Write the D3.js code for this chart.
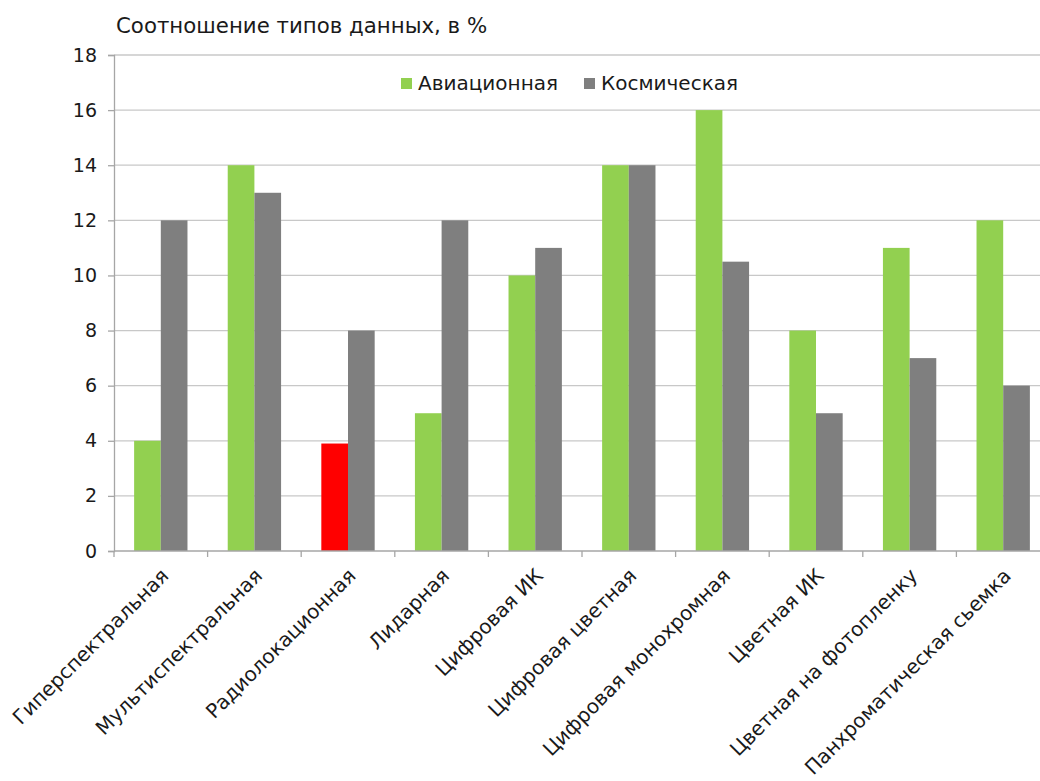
<!DOCTYPE html>
<html><head><meta charset="utf-8">
<script src="https://cdn.jsdelivr.net/npm/d3@7"></script>
<style>
html,body{margin:0;padding:0;background:#fff;}
text{font-family:"DejaVu Sans",sans-serif;fill:#1a1a1a;}
</style></head>
<body><svg id="c" width="1040" height="781"></svg>
<script>
const categories = ["Гиперспектральная","Мультиспектральная","Радиолокационная","Лидарная","Цифровая ИК","Цифровая цветная","Цифровая монохромная","Цветная ИК","Цветная на фотопленку","Панхроматическая сьемка"];
const seriesNames = ["Авиационная","Космическая"];
const aviation = [4,14,3.9,5,10,14,16,8,11,12];
const space = [12,13,8,12,11,14,10.5,5,7,6];
const yTicks = [0,2,4,6,8,10,12,14,16,18];
const highlightIndex = 2;

(function(){
const colors = {"Авиационная":"#92d050","Космическая":"#7f7f7f"};
const highlight = "#ff0000";

const svg = d3.select("#c");
const mLeft = 114, mRight = 1050, mTop = 55, mBottom = 551;

const x = d3.scaleBand().domain(categories).range([mLeft,mRight]).paddingInner(0.43).paddingOuter(0.215);
const xs = d3.scaleBand().domain(seriesNames).range([0,x.bandwidth()]);
const y = d3.scaleLinear().domain([0,18]).range([mBottom,mTop]);

// grid
svg.append("g").selectAll("line").data(yTicks.filter(d=>d>0)).join("line")
  .attr("x1",mLeft).attr("x2",1040).attr("y1",d=>y(d)).attr("y2",d=>y(d))
  .attr("stroke","#c8c8c8").attr("stroke-width",1.3);

// bars
const data = categories.map((c,i)=>({c,i,vals:[aviation[i],space[i]]}));
const g = svg.append("g");
data.forEach(d=>{
  seriesNames.forEach((s,k)=>{
    g.append("rect")
      .attr("x",x(d.c)+xs(s)).attr("width",xs.bandwidth())
      .attr("y",y(d.vals[k])).attr("height",y(0)-y(d.vals[k]))
      .attr("fill",(k===0&&d.i===highlightIndex)?highlight:colors[s]);
  });
});

// y axis
const ya = d3.axisLeft(y).tickValues(yTicks).tickSize(6).tickPadding(11);
const yg = svg.append("g").attr("transform",`translate(${mLeft},0)`).call(ya);
yg.select(".domain").attr("stroke","#a6a6a6").attr("stroke-width",1.3);
yg.selectAll(".tick line").attr("stroke","#a6a6a6").attr("stroke-width",1.3);
yg.selectAll(".tick text").style("font-size","19px").attr("fill","#1a1a1a").attr("font-family","DejaVu Sans");

// x axis
svg.append("line").attr("x1",mLeft).attr("x2",1040).attr("y1",mBottom).attr("y2",mBottom)
  .attr("stroke","#a6a6a6").attr("stroke-width",1.3);
const bounds = categories.map(c=>x(c)-x.step()*x.paddingInner()/2);
svg.append("g").selectAll("line").data(bounds).join("line")
  .attr("x1",d=>d).attr("x2",d=>d).attr("y1",mBottom).attr("y2",mBottom+6)
  .attr("stroke","#a6a6a6").attr("stroke-width",1.3);

// x labels
svg.append("g").selectAll("text").data(categories).join("text")
  .attr("transform",d=>`translate(${x(d)+x.bandwidth()/2+9},${577}) rotate(-45)`)
  .attr("text-anchor","end").style("font-size","20px").text(d=>d);

// title
svg.append("text").attr("x",116).attr("y",33).style("font-size","21.3px").text("Соотношение типов данных, в %");

// legend
const lg = svg.append("g");
const lx = [401,584];
seriesNames.forEach((s,k)=>{
  lg.append("rect").attr("x",lx[k]).attr("y",78).attr("width",11).attr("height",11).attr("fill",colors[s]);
  lg.append("text").attr("x",lx[k]+17).attr("y",90).style("font-size","20px").text(s);
});
})();
</script></body></html>
